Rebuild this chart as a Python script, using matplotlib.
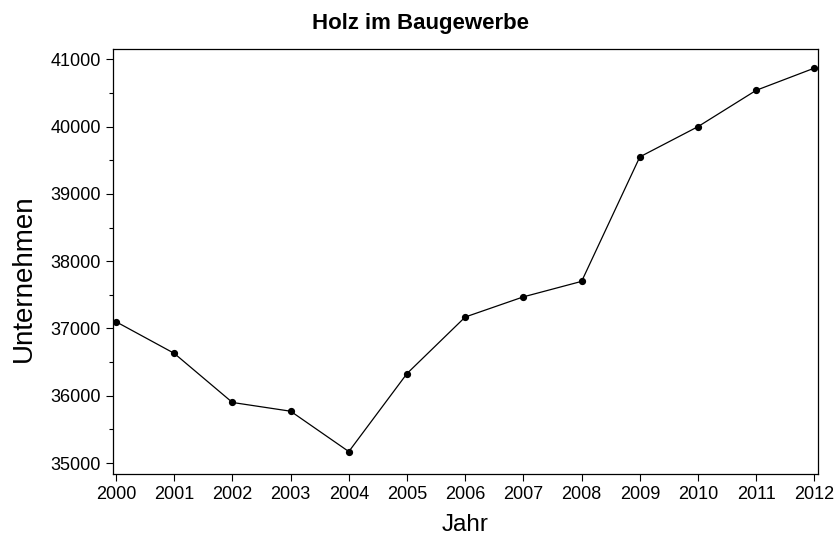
import matplotlib
matplotlib.use('Agg')
from matplotlib import pyplot as plt
from matplotlib.ticker import MultipleLocator

plt.rcParams['font.family'] = ['Liberation Sans', 'DejaVu Sans']

# data
jahre = [2000, 2001, 2002, 2003, 2004, 2005, 2006, 2007, 2008, 2009, 2010, 2011, 2012]
unternehmen = [37100, 36630, 35900, 35770, 35170, 36330, 37170, 37470, 37700, 39550, 40000, 40540, 40870]

fig = plt.figure(figsize=(8.36, 5.45), dpi=100)
ax = fig.add_axes([0.1348, 0.1303, 0.8442, 0.7797])

ax.plot(jahre, unternehmen, color='black', lw=0.9, marker='o', ms=4.2)

ax.set_xlim(1999.943, 2012.069)
ax.set_ylim(34837, 41153)
ax.set_xticks(jahre)
ax.yaxis.set_major_locator(MultipleLocator(1000))
ax.yaxis.set_minor_locator(MultipleLocator(500))
ax.tick_params(axis='both', which='major', labelsize=13, length=5, width=0.8, direction='out')
ax.tick_params(axis='y', which='minor', length=3, width=0.8)
for s in ax.spines.values():
    s.set_linewidth(0.9)

fig.text(0.503, 0.957, 'Holz im Baugewerbe', fontsize=16, fontweight='bold', ha='center', va='center')
ax.set_xlabel('Jahr', fontsize=17.5, labelpad=8)
ax.set_ylabel('Unternehmen', fontsize=20)
ax.yaxis.set_label_coords(-0.108, 0.461)

fig.savefig('out.png', dpi=100)
